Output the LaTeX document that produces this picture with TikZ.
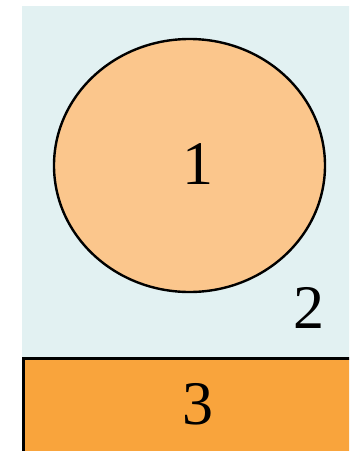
\documentclass[tikz,border=0pt]{standalone}
\usepackage{fontspec}
\setmainfont{Liberation Serif}
\usetikzlibrary{shapes.geometric}
\definecolor{bgblue}{HTML}{E2F1F2}
\definecolor{lightorange}{HTML}{FBC68C}
\definecolor{deeporange}{HTML}{F9A43C}
\tikzset{
  lbl/.style={font=\fontsize{62}{62}\selectfont, inner sep=0pt, text=black},
  region/.style={fill=bgblue, draw=none},
  blob/.style={ellipse, fill=lightorange, draw=black, line width=2.4pt, minimum width=271pt, minimum height=253pt, inner sep=0pt},
}
\begin{document}
\begin{tikzpicture}[x=1pt,y=-1pt]
\useasboundingbox (0,0) rectangle (349,451);
\clip (0,0) rectangle (349,451);
\fill[white] (0,0) rectangle (349,451);
\path[region] (22,6) rectangle (360,357);
\node[blob] (e1) at (189.5,165.5) {};
\node[lbl] (t1) at (198,164) {1};
\node[lbl] (t2) at (309,308) {2};
\draw[fill=deeporange, draw=black, line width=3pt] (23.5,358.5) rectangle (380,480);
\node[lbl] (t3) at (198,404) {3};
\end{tikzpicture}
\end{document}
